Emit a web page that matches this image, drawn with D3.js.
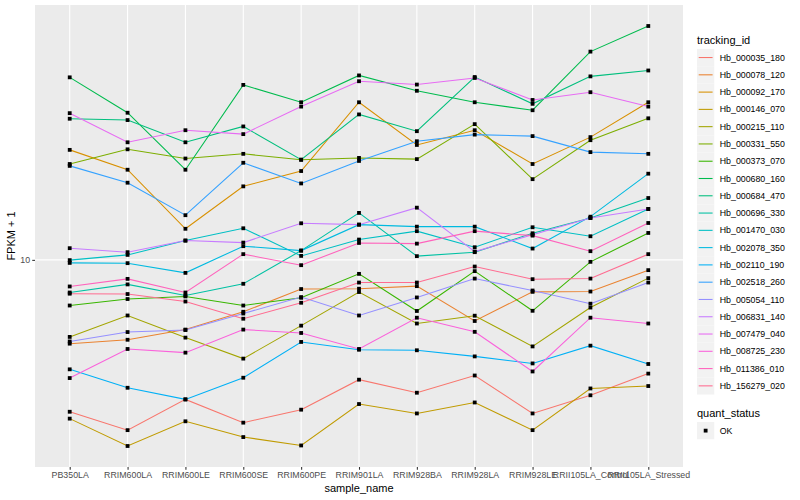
<!DOCTYPE html>
<html>
<head>
<meta charset="utf-8">
<script src="https://cdn.jsdelivr.net/npm/d3@7"></script>
<style>
body { margin: 0; background: #fff; }
text { font-family: "Liberation Sans", Arial, Helvetica, sans-serif; }
</style>
</head>
<body>
<div id="chart"></div>
<script>
// samples on the x axis
const samples = ['PB350LA', 'RRIM600LA', 'RRIM600LE', 'RRIM600SE', 'RRIM600PE', 'RRIM901LA',
    'RRIM928BA', 'RRIM928LA', 'RRIM928LE', 'RRII105LA_Control', 'RRII105LA_Stressed'];

const trackingIds = ['Hb_000035_180', 'Hb_000078_120', 'Hb_000092_170', 'Hb_000146_070', 'Hb_000215_110',
    'Hb_000331_550', 'Hb_000373_070', 'Hb_000680_160', 'Hb_000684_470', 'Hb_000696_330',
    'Hb_001470_030', 'Hb_002078_350', 'Hb_002110_190', 'Hb_002518_260', 'Hb_005054_110',
    'Hb_006831_140', 'Hb_007479_040', 'Hb_008725_230', 'Hb_011386_010', 'Hb_156279_020'];

// FPKM + 1, one value per sample
const hb000035_180 = [3.11, 2.70, 3.42, 2.86, 3.16, 3.98, 3.60, 4.11, 3.07, 3.53, 4.17];
const hb000078_120 = [5.25, 5.41, 5.85, 6.71, 7.99, 8.01, 8.17, 6.25, 7.82, 7.84, 9.24];
const hb000092_170 = [23.3, 20.0, 12.7, 17.6, 19.8, 33.6, 24.2, 27.1, 20.9, 25.7, 33.6];
const hb000146_070 = [2.95, 2.39, 2.89, 2.56, 2.40, 3.30, 3.07, 3.34, 2.70, 3.72, 3.79];
const hb000215_110 = [5.53, 6.52, 5.50, 4.68, 6.03, 7.81, 6.13, 6.51, 5.14, 6.93, 8.69];
const hb000331_550 = [20.9, 23.4, 21.8, 22.6, 21.6, 21.9, 21.7, 28.4, 18.6, 25.1, 29.7];
const hb000373_070 = [7.04, 7.40, 7.55, 7.04, 7.47, 8.98, 6.75, 9.17, 6.76, 9.85, 12.3];
const hb000680_160 = [40.7, 31.0, 20.0, 38.4, 33.6, 41.3, 36.7, 33.6, 31.6, 49.6, 60.4];
const hb000684_470 = [29.6, 29.3, 24.7, 27.9, 21.6, 30.6, 26.9, 40.8, 33.2, 41.0, 42.9];
const hb000696_330 = [7.78, 8.28, 7.60, 8.32, 10.74, 14.35, 10.29, 10.61, 12.27, 13.80, 16.09];
const hb001470_030 = [9.98, 10.39, 11.60, 12.75, 10.31, 11.69, 12.47, 11.02, 12.85, 11.99, 14.79];
const hb002078_350 = [9.77, 9.75, 9.05, 11.11, 10.74, 13.11, 12.91, 12.91, 10.91, 13.94, 19.40];
const hb002110_190 = [4.31, 3.74, 3.42, 4.04, 5.32, 5.01, 4.99, 4.76, 4.51, 5.17, 4.49];
const hb002518_260 = [20.6, 18.1, 14.1, 21.1, 18.0, 21.4, 24.9, 26.2, 25.9, 22.9, 22.6];
const hb005054_110 = [5.34, 5.74, 5.83, 6.62, 7.51, 6.52, 7.49, 8.66, 7.90, 7.14, 8.40];
const hb006831_140 = [10.94, 10.61, 11.60, 11.42, 13.25, 13.11, 14.94, 10.66, 12.14, 13.80, 14.79];
const hb007479_040 = [30.9, 24.7, 27.1, 26.3, 32.5, 39.5, 38.5, 40.5, 34.2, 36.3, 32.5];
const hb008725_230 = [4.03, 5.04, 4.90, 5.85, 5.70, 5.04, 6.41, 5.75, 4.24, 6.41, 6.13];
const hb011386_010 = [8.15, 8.64, 7.78, 10.45, 9.60, 11.39, 11.33, 12.47, 12.05, 10.69, 13.28];
const hb156279_020 = [7.71, 7.69, 7.26, 6.36, 7.19, 8.40, 8.40, 9.50, 8.62, 8.66, 10.45];

const seriesValues = [hb000035_180, hb000078_120, hb000092_170, hb000146_070, hb000215_110,
    hb000331_550, hb000373_070, hb000680_160, hb000684_470, hb000696_330,
    hb001470_030, hb002078_350, hb002110_190, hb002518_260, hb005054_110,
    hb006831_140, hb007479_040, hb008725_230, hb011386_010, hb156279_020];

const yTicks = [10];

// ggplot hue palette for 20 levels
const palette = ['#F8766D', '#EA8331', '#D89000', '#C09B00', '#A3A500', '#7CAE00', '#39B600',
    '#00BB4E', '#00BF7D', '#00C1A3', '#00BFC4', '#00BAE0', '#00B0F6', '#35A2FF', '#9590FF',
    '#C77CFF', '#E76BF3', '#FA62DB', '#FF62BC', '#FF6C91'];

const series = trackingIds.map((id, i) => ({
    id: id,
    color: palette[i],
    points: samples.map((s, j) => ({ sample: s, value: seriesValues[i][j] }))
}));

const width = 800, height = 500;
const panel = { left: 35, right: 683, top: 5, bottom: 467 };

const svg = d3.select('#chart').append('svg')
    .attr('width', width)
    .attr('height', height);

// Scales
const x = d3.scalePoint()
    .domain(samples)
    .range([panel.left, panel.right])
    .padding(0.6);

const allValues = seriesValues.flat();
const lo = Math.log10(d3.min(allValues)), hi = Math.log10(d3.max(allValues));
const pad = (hi - lo) * 0.05;
const y = d3.scaleLog()
    .domain([Math.pow(10, lo - pad), Math.pow(10, hi + pad)])
    .range([panel.bottom, panel.top]);

// Panel background + grid
svg.append('rect')
    .attr('x', panel.left)
    .attr('y', panel.top)
    .attr('width', panel.right - panel.left)
    .attr('height', panel.bottom - panel.top)
    .style('fill', '#EBEBEB');

svg.append('g')
    .selectAll('line')
    .data(samples)
    .enter()
    .append('line')
    .attr('x1', d => x(d)).attr('x2', d => x(d))
    .attr('y1', panel.top).attr('y2', panel.bottom)
    .style('stroke', '#fff')
    .style('stroke-width', 1.07);

svg.append('g')
    .selectAll('line')
    .data(yTicks)
    .enter()
    .append('line')
    .attr('x1', panel.left).attr('x2', panel.right)
    .attr('y1', d => y(d)).attr('y2', d => y(d))
    .style('stroke', '#fff')
    .style('stroke-width', 1.07);

// Axes
const xAxis = svg.append('g')
    .attr('transform', `translate(0, ${panel.bottom})`)
    .call(d3.axisBottom(x).tickSize(2.75).tickPadding(2.2));
const yAxis = svg.append('g')
    .attr('transform', `translate(${panel.left}, 0)`)
    .call(d3.axisLeft(y).tickValues(yTicks).tickFormat(d3.format('d')).tickSize(2.75).tickPadding(2.2));

[xAxis, yAxis].forEach(ax => {
    ax.select('.domain').remove();
    ax.selectAll('.tick line').style('stroke', '#333333').style('stroke-width', 1.07);
    ax.selectAll('.tick text')
        .style('fill', '#4D4D4D')
        .style('font-size', '8.8px')
        .style('font-family', '"Liberation Sans", Arial, sans-serif');
});

// Axis titles
svg.append('text')
    .attr('x', (panel.left + panel.right) / 2)
    .attr('y', 492)
    .attr('text-anchor', 'middle')
    .style('font-size', '11px')
    .text('sample_name');

svg.append('text')
    .attr('transform', `translate(15, ${(panel.top + panel.bottom) / 2}) rotate(-90)`)
    .attr('text-anchor', 'middle')
    .style('font-size', '11px')
    .text('FPKM + 1');

// Lines
const line = d3.line()
    .x(d => x(d.sample))
    .y(d => y(d.value));

svg.append('g')
    .selectAll('path')
    .data(series)
    .enter()
    .append('path')
    .attr('d', d => line(d.points))
    .style('fill', 'none')
    .style('stroke', d => d.color)
    .style('stroke-width', 1.07);

// Points (quant_status = OK)
const pt = 3.8;
svg.append('g')
    .selectAll('rect')
    .data(series.flatMap(s => s.points))
    .enter()
    .append('rect')
    .attr('x', d => x(d.sample) - pt / 2)
    .attr('y', d => y(d.value) - pt / 2)
    .attr('width', pt)
    .attr('height', pt)
    .style('fill', '#000');

// Legend: tracking_id
const key = 17.28;
const legend = svg.append('g').attr('transform', 'translate(697, 0)');

legend.append('text')
    .attr('x', 0).attr('y', 44)
    .style('font-size', '11px')
    .text('tracking_id');

const items = legend.selectAll('g.item')
    .data(series)
    .enter()
    .append('g')
    .attr('class', 'item')
    .attr('transform', (d, i) => `translate(0, ${48.9 + i * key})`);

items.append('rect')
    .attr('width', key).attr('height', key)
    .style('fill', '#F2F2F2');

items.append('line')
    .attr('x1', 1.7).attr('x2', key - 1.7)
    .attr('y1', key / 2).attr('y2', key / 2)
    .style('stroke', d => d.color)
    .style('stroke-width', 1.07);

items.append('text')
    .attr('x', key + 5.5)
    .attr('y', key / 2)
    .attr('dy', '0.35em')
    .style('font-size', '8.8px')
    .text(d => d.id);

// Legend: quant_status
legend.append('text')
    .attr('x', 0).attr('y', 417)
    .style('font-size', '11px')
    .text('quant_status');

const ok = legend.append('g').attr('transform', 'translate(0, 422)');
ok.append('rect')
    .attr('width', key).attr('height', key)
    .style('fill', '#F2F2F2');
ok.append('rect')
    .attr('x', key / 2 - pt / 2).attr('y', key / 2 - pt / 2)
    .attr('width', pt).attr('height', pt)
    .style('fill', '#000');
ok.append('text')
    .attr('x', key + 5.5)
    .attr('y', key / 2)
    .attr('dy', '0.35em')
    .style('font-size', '8.8px')
    .text('OK');
</script>
</body>
</html>
